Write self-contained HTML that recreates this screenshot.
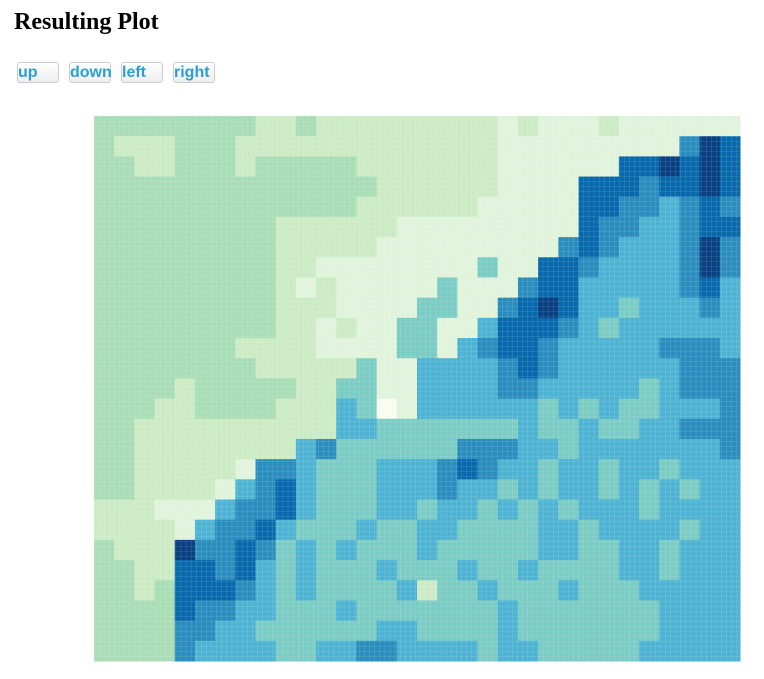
<!DOCTYPE html>
<html><head><meta charset="utf-8"><style>
body{margin:0;background:#fff;width:764px;height:679px;overflow:hidden;position:relative}
h1{position:absolute;left:14px;top:9px;margin:0;font:bold 24px "Liberation Serif",serif;color:#000}
.btn{position:absolute;top:62px;width:40px;height:19px;border:1px solid #ccc;border-radius:3px;background:linear-gradient(#fff,#eee);font:bold 16px "Liberation Sans",sans-serif;color:#2a9fd6;line-height:19px;padding:0;text-align:left;white-space:nowrap;overflow:visible;box-sizing:content-box}
svg{position:absolute;left:0;top:0}
</style></head><body>
<h1>Resulting Plot</h1>
<div class="btn" style="left:17px">up</div>
<div class="btn" style="left:69px">down</div>
<div class="btn" style="left:121px">left</div>
<div class="btn" style="left:173px">right</div>
<svg id="chart" width="764" height="679">
<defs><pattern id="gridpat" x="94" y="116" width="5.1" height="5" patternUnits="userSpaceOnUse"><path d="M0 0H5.1M0 0V5" stroke="#ffffff" stroke-width="0.6" fill="none" opacity="0.35"/></pattern></defs>
</svg>
<script>
const palette = ["#f7fcf0","#e0f3db","#ccebc5","#a8ddb5","#7bccc4","#4eb3d3","#2b8cbe","#0868ac","#084081"];
const gridRows = [
"33333333223222222222121112111111",
"32223332222222222222111111111687",
"33223332333332222222111111778787",
"33333333333333222222111177767787",
"33333333333332222221111177665676",
"33333333322222211111111176655677",
"33333333322222111111111676555686",
"33333333322111111114117765555686",
"33333333321211111411167755555675",
"33333333322211114411678755455565",
"33333333322121144115777654555555",
"33333332222111144156776555556665",
"33333333222224115555676555555666",
"33332333332244115555665555545666",
"33322333322254015555554545445556",
"33222222222255444444454454455666",
"33222222225644444466655455555556",
"33222221665444555676554554554555",
"33222215675444555655454554545455",
"22211156675444554554545455545555",
"22221566754445445544445545555455",
"32228667645454445444445544554555",
"33227767545444544454454444554555",
"33237776545444452445444544455555",
"33337665544454444444544444445555",
"33336655444444554444544444445555",
"33336555544556655554554444455555"
];
const x0 = 94, y0 = 116, plotW = 646, plotH = 545;
const nCols = gridRows[0].length, nRows = gridRows.length;
const xScale = c => x0 + c * plotW / nCols;
const yScale = r => y0 + r * plotH / nRows;
const svg = document.getElementById('chart');
const NS = 'http://www.w3.org/2000/svg';
for (let r = 0; r < nRows; r++) {
  for (let c = 0; c < nCols; c++) {
    const v = +gridRows[r][c];
    const rect = document.createElementNS(NS, 'rect');
    rect.setAttribute('x', xScale(c));
    rect.setAttribute('y', yScale(r));
    rect.setAttribute('width', xScale(c + 1) - xScale(c) + 0.5);
    rect.setAttribute('height', yScale(r + 1) - yScale(r) + 0.5);
    rect.setAttribute('fill', palette[v]);
    
    
    svg.appendChild(rect);
  }
}
const overlay = document.createElementNS(NS, 'rect');
overlay.setAttribute('x', x0);
overlay.setAttribute('y', y0);
overlay.setAttribute('width', plotW);
overlay.setAttribute('height', plotH);
overlay.setAttribute('fill', 'url(#gridpat)');


svg.appendChild(overlay);
</script>
</body></html>
